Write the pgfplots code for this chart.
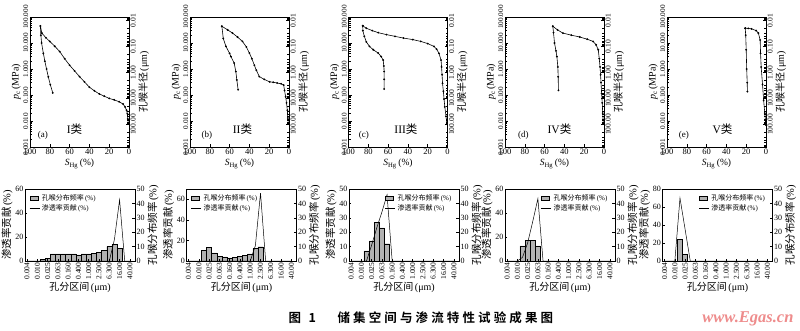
\documentclass[border=0pt]{standalone}
\usepackage{fontspec}
\setmainfont{Liberation Serif}
\newfontfamily\cjk[BoldFont={Noto Sans CJK SC Bold}]{Noto Sans CJK SC}
\usepackage{pgfplots}
\usepackage{pgfplotstable}
\pgfplotsset{compat=1.18}
\definecolor{wm}{RGB}{238,140,140}

% ---------------- top row data: S_Hg (%)  p_c (MPa)
\pgfplotstableread{
x y
0.7 0.008
1.2 0.012
1.7 0.019
2.5 0.026
4 0.035
6 0.045
10 0.055
15 0.065
20 0.074
25 0.09
30 0.11
35 0.145
40 0.20
45 0.32
50 0.51
55 0.85
60 1.4
65 2.5
70 4.7
75 7.5
80 11.5
84 16
88 24
89.5 45
}\aIn
\pgfplotstableread{
x y
89.5 45
89 20
88.3 10
86.5 4
85 2
83.3 1
81.5 0.5
79.5 0.25
77 0.12
}\aOut
\pgfplotstableread{
x y
0.7 0.008
1.2 0.013
1.7 0.026
2.5 0.05
3.4 0.085
4.5 0.15
5.4 0.24
8 0.27
12 0.29
16 0.31
19.5 0.32
25 0.4
30 0.51
33 0.9
35 1.4
37.5 2.5
40 4.1
43 7
47 11.5
52 17
57 24
62 32
67.8 44
}\bIn
\pgfplotstableread{
x y
67.8 44
66.4 15
63.7 7.4
60 4
58.7 3
55.4 1.7
53.7 0.8
52.7 0.38
51.4 0.16
}\bOut
\pgfplotstableread{
x y
0.7 0.008
1.5 0.015
2.7 0.035
3.5 0.07
4.2 0.14
5 0.28
5.5 0.6
6 1.2
6.5 2.2
8.6 4
11 5.8
13.7 7.4
20 9.5
27 11.5
35 13.5
44.5 15.5
53 18
61.6 21
70 25
76 30
82 37
85.6 46
}\cIn
\pgfplotstableread{
x y
85.6 46
85.5 30
84 18
82 11
78.8 7.4
75 5.5
70 4.1
67 3
65 2.2
64.3 1.3
64 0.8
64 0.4
64 0.17
}\cOut
\pgfplotstableread{
x y
0.7 0.008
1.3 0.02
1.8 0.05
2.4 0.115
3 0.3
3.5 0.6
4 1.2
4.8 2.5
5.8 5.5
8 8.5
11 11.5
17 14
24.5 17
33 20
41.5 24
47 32
51.7 44
}\dIn
\pgfplotstableread{
x y
51.7 44
51 25
50 10
48.5 5
47.6 3
46.6 1.2
46.3 0.5
46 0.15
}\dOut
\pgfplotstableread{
x y
0.2 0.007
1.2 0.02
2.4 0.063
3.5 0.25
4.9 1.2
5.5 4
5.9 13
7.7 24
10 30
14.6 35
18 36.5
21 37
}\eIn
\pgfplotstableread{
x y
21 37
20.5 20
20 5.5
19.5 1
19 0.3
18.8 0.135
}\eOut

% ---------------- bottom row data: bin index, value
\pgfplotstableread{
x y
3 1
4 2
5 5
6 5
7 5
8 5
9 5
10 4.3
11 5
12 5
13 5.3
14 6
15 7.5
16 10
17 11.5
18 9
}\fA
\pgfplotstableread{
x y
0 0
16 0
17 18
18 51
19 0
20 0
}\gA
\pgfplotstableread{
x y
3 7.5
4 9.4
5 5.7
6 3.3
7 2.8
8 2.1
9 2.4
10 3
11 3.8
12 5
13 8.7
14 9.9
}\fB
\pgfplotstableread{
x y
0 0
12 0
13 15
14 66
15 0
20 0
}\gB
\pgfplotstableread{
x y
3 7
4 14
5 27
6 23
7 12
}\fC
\pgfplotstableread{
x y
0 0
3 0
4 11
5 23
6 34
7 46
8 0
20 0
}\gC
\pgfplotstableread{
x y
3 10.5
4 14.5
5 14.5
6 10.5
}\fD
\pgfplotstableread{
x y
0 0
2 0
3 3
4 15
5 33
6 52
7 0
20 0
}\gD
\pgfplotstableread{
x y
3 15
4 4.6
}\fE
\pgfplotstableread{
x y
0 0
2 0
3 70
4 35
5 0
20 0
}\gE

\pgfplotsset{
  mycommon/.style={
    scale only axis, anchor=south west,
    axis line style={line width=0.9pt},
    major tick style={black, line width=0.5pt},
    minor tick style={black, line width=0.4pt},
    major tick length=3pt, minor tick length=2pt,
    /pgf/number format/assume math mode=true,
  },
  topax/.style={
    mycommon, width=99pt, height=130pt,
    xmin=0, xmax=100, x dir=reverse, xtick={0,20,40,60,80,100},
    ymin=0.001, ymax=100,
    ytick={0.001,0.01,0.1,1,10,100},
    yticklabels={0.001,0.010,0.100,1.000,10.000,100.000},
    xtick pos=bottom, ytick pos=left,
    yticklabel style={rotate=90, anchor=south, font=\fontsize{7.2}{8}\selectfont, inner sep=1.5pt},
    xticklabel style={font=\fontsize{8.5}{9}\selectfont, inner sep=1.5pt},
    xlabel={\textit{S}\textsubscript{Hg}\,(\%)},
    ylabel={\textit{p}\textsubscript{c}\,(MPa)},
    xlabel style={at={(axis description cs:0.5,-0.085)}, anchor=north, font=\fontsize{9.5}{10}\selectfont, inner sep=1pt},
    ylabel style={font=\fontsize{10}{11}\selectfont, inner sep=1pt},
  },
  toprax/.style={
    mycommon, width=99pt, height=130pt,
    xmin=0, xmax=100, hide x axis, axis y line*=right,
    y dir=reverse, ymin=0.00735, ymax=735,
    ytick={0.01,0.1,1,10,100},
    yticklabels={0.01,0.10,1.00,10.00,100.00},
    minor ytick={0.008,0.009,0.02,0.03,0.04,0.05,0.06,0.07,0.08,0.09,0.2,0.3,0.4,0.5,0.6,0.7,0.8,0.9,2,3,4,5,6,7,8,9,20,30,40,50,60,70,80,90,200,300,400,500,600,700},
    yticklabel style={rotate=90, anchor=north, font=\fontsize{7.5}{8}\selectfont, inner sep=1.5pt},
    ylabel={{\cjk 孔喉半径}\,(μm)},
    ylabel style={font=\fontsize{10}{11}\selectfont, inner sep=1pt},
  },
  mycurve/.style={black, line width=0.6pt, mark=*, mark size=0.6pt},
  botlax/.style={
    mycommon, width=110pt, height=72pt,
    xmin=-0.4, xmax=21, xtick={0,2,...,20},
    xticklabels={0.004,0.010,0.025,0.063,0.160,0.400,1.000,2.500,6.300,16.00,40.00},
    xticklabel style={rotate=90, anchor=east, font=\fontsize{7.5}{8}\selectfont, inner sep=1.5pt},
    ymin=0, xtick pos=bottom, ytick pos=left, major tick length=2pt,
    yticklabel style={font=\fontsize{8}{9}\selectfont, inner sep=1.5pt},
    xlabel={{\cjk 孔分区间}\,(μm)}, ylabel={{\cjk 渗透率贡献}\,(\%)},
    xlabel style={font=\fontsize{10}{11}\selectfont, inner sep=1pt},
    ylabel style={font=\fontsize{10.5}{11}\selectfont, inner sep=1pt},
    legend style={draw=none, fill=none, font=\fontsize{7}{8}\selectfont,
      at={(0.03,0.97)}, anchor=north west, inner sep=1pt, row sep=-1.5pt},
    legend cell align=left,
  },
  botbax/.style={
    mycommon, width=110pt, height=72pt,
    xmin=-0.4, xmax=21, hide x axis, axis y line*=right,
    ymin=0, ymax=50, ytick={0,10,...,50},
    yticklabel style={font=\fontsize{8}{9}\selectfont, inner sep=1.5pt},
    ylabel={{\cjk 孔喉分布频率}\,(\%)},
    ylabel style={font=\fontsize{10.5}{11}\selectfont, inner sep=1pt},
  },
  barleg/.style={legend image code/.code={\draw[fill=gray!60,draw=black,line width=0.4pt] (0pt,-2pt) rectangle (8pt,2pt);}},
  lineleg/.style={legend image code/.code={\draw[black, line width=0.5pt] (0pt,0pt) -- (10pt,0pt);}},
}

\newcommand{\toppanel}[7]{%
\begin{semilogyaxis}[topax, at={(#1pt,183pt)}]
\addplot[mycurve] table {#2};
\addplot[mycurve] table {#3};
\node[font=\fontsize{9}{10}\selectfont] at (axis cs:#5,0.0028) {(#4)};
\node[font=\fontsize{11.5}{12}\selectfont] at (axis cs:#7,0.005) {#6};
\end{semilogyaxis}
\begin{semilogyaxis}[toprax, at={(#1pt,183pt)}]
\end{semilogyaxis}}

\newcommand{\botpanel}[6]{%
\begin{axis}[botbax, at={(#1pt,69pt)}]
\addplot[ybar, bar width=1, fill=gray!60, draw=black, line width=0.4pt] table {#2};
\end{axis}
\begin{axis}[botlax, at={(#1pt,69pt)}, ymax=#4, ytick={#5}, #6]
\addlegendimage{barleg}
\addlegendentry{{\cjk 孔喉分布频率}\,(\%)}
\addplot[black, line width=0.5pt, lineleg] table {#3};
\addlegendentry{{\cjk 渗透率贡献}\,(\%)}
\end{axis}}

\begin{document}
\begin{tikzpicture}
\path[use as bounding box] (0pt,0pt) rectangle (800pt,330pt);

\toppanel{30}{\aIn}{\aOut}{a}{87}{I{\cjk 类}}{55}
\toppanel{190}{\bIn}{\bOut}{b}{83}{II{\cjk 类}}{47}
\toppanel{348.5}{\cIn}{\cOut}{c}{84.5}{III{\cjk 类}}{42}
\toppanel{505}{\dIn}{\dOut}{d}{81.5}{IV{\cjk 类}}{45}
\toppanel{667}{\eIn}{\eOut}{e}{83}{V{\cjk 类}}{44}

\botpanel{25}{\fA}{\gA}{60}{0,20,40,60}{}
\botpanel{186.5}{\fB}{\gB}{70}{0,20,40,60}{}
\botpanel{349}{\fC}{\gC}{50}{0,10,20,30,40,50}{legend style={at={(0.96,0.97)},anchor=north east}}
\botpanel{505}{\fD}{\gD}{60}{0,20,40,60}{legend style={at={(0.96,0.97)},anchor=north east}}
\botpanel{662.5}{\fE}{\gE}{80}{0,20,40,60,80}{legend style={at={(0.96,0.97)},anchor=north east}}

\node[font=\cjk\bfseries\fontsize{12.5}{13}\selectfont, anchor=west] at (285pt,12pt) {图\hspace{0.6em}1};
\node[font=\cjk\bfseries\fontsize{12.5}{13}\selectfont, anchor=west] at (334pt,12pt) {\addfontfeature{LetterSpace=25}储集空间与渗流特性试验成果图};
\node[font=\bfseries\itshape\fontsize{16.5}{17}\selectfont, text=wm, anchor=east] at (797pt,11pt) {www.Egas.cn};
\end{tikzpicture}
\end{document}
